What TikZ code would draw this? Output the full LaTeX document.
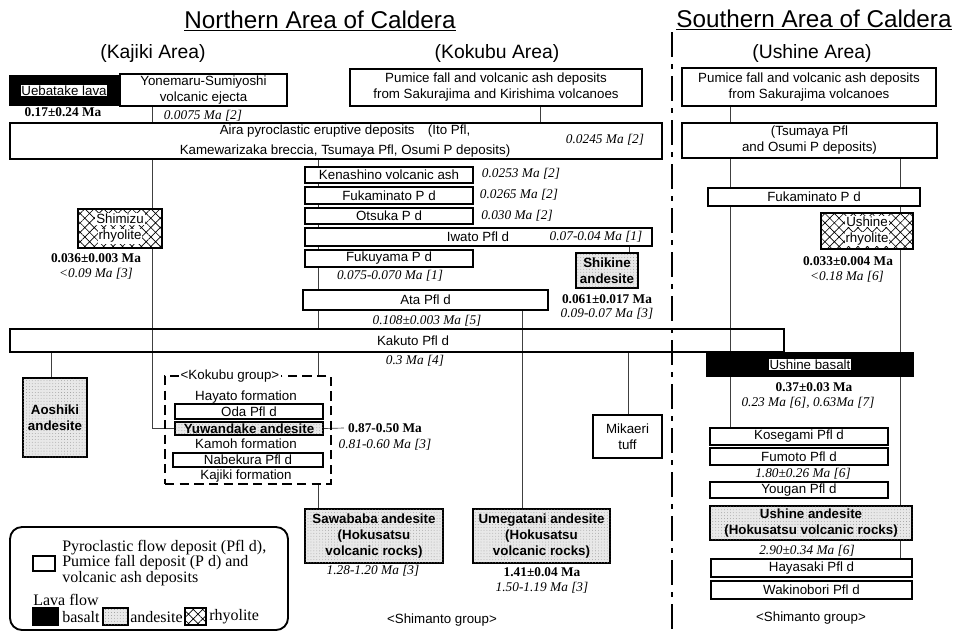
\documentclass[tikz,border=0pt]{standalone}
\usepackage{fontspec}
\setmainfont{Liberation Sans}
\newfontfamily\seriffont{Liberation Serif}
\usetikzlibrary{patterns.meta,backgrounds}
\newcommand{\wb}[1]{{\setlength{\fboxsep}{0.6pt}\colorbox{white}{#1}}}
\begin{document}
\begin{tikzpicture}[x=0.75pt,y=-0.75pt,
  bx/.style n args={4}{at={({(#1+#3)/2},{(#2+#4)/2})},minimum width={(#3-#1)*0.75pt},minimum height={(#4-#2)*0.75pt}},
  box/.style={draw,line width=0.9pt,fill=white,inner sep=0pt,align=center,font=\fontsize{10}{12}\selectfont},
  andes/.style={box,fill=black!9,postaction={pattern={Dots[distance=2.2pt,radius=0.3pt]},pattern color=black!45},font=\bfseries\fontsize{10}{12}\selectfont},
  rhyo/.style={box,postaction={pattern={Hatch[angle=45,distance=5pt,line width=0.5pt]}}},
  basalt/.style={box,fill=black},
  conn/.style={line width=0.5pt,black!75},
  txt/.style={inner sep=0pt,align=center,font=\fontsize{10}{12}\selectfont},
  date/.style={inner sep=0pt,align=center,font=\seriffont\itshape\fontsize{10}{12}\selectfont},
  age/.style={inner sep=0pt,align=center,font=\seriffont\bfseries\fontsize{10}{12}\selectfont},
  ttl/.style={inner sep=0pt,anchor=base,font=\fontsize{18.2}{20}\selectfont},
  subttl/.style={inner sep=0pt,anchor=base,font=\fontsize{14.5}{16}\selectfont},
  legtxt/.style={inner sep=0pt,anchor=west,align=left,font=\seriffont\fontsize{12}{11.7}\selectfont}
]
\path[use as bounding box] (0,0) rectangle (955,633);
\begin{scope}[on background layer]
\fill[white] (0,0) rectangle (955,633);
\end{scope}

% titles
\node[ttl] (tn) at (320,28) {\underline{Northern Area of Caldera}};
\node[ttl] (ts) at (814,27) {\underline{Southern Area of Caldera}};
\node[subttl] (ka) at (153,58) {(Kajiki Area)};
\node[subttl] (kb) at (497,58) {(Kokubu Area)};
\node[subttl] (ua) at (812,58) {(Ushine Area)};

% ---------- northern area ----------
\node[basalt,bx={10}{76}{118}{105}] (ueb) {\wb{Uebatake lava}};
\node[age] (aueb) at (63,112) {0.17±0.24 Ma};
\node[box,bx={120}{74}{287}{106}] (yon) {Yonemaru-Sumiyoshi\\volcanic ejecta};
\node[date] (dyon) at (203,116) {0.0075 Ma [2]};
\node[box,bx={350}{69}{642}{106}] (kpum) {Pumice fall and volcanic ash deposits\\from Sakurajima and Kirishima volcanoes};

\node[box,bx={10}{123}{662}{159}] (aira) {};
\node[txt,font=\fontsize{10}{15}\selectfont] (airatxt) at (345,141) {Aira pyroclastic eruptive deposits\hspace{1em}(Ito Pfl,\\Kamewarizaka breccia, Tsumaya Pfl, Osumi P deposits)};
\node[date] (daira) at (605,140) {0.0245 Ma [2]};

\node[box,bx={305}{167}{473}{183}] (ken) {Kenashino volcanic ash};
\node[date] (dken) at (521,174) {0.0253 Ma [2]};
\node[box,bx={305}{187}{473}{204}] (fuk) {Fukaminato P d};
\node[date] (dfuk) at (519,195) {0.0265 Ma [2]};
\node[box,bx={305}{208}{473}{224}] (ots) {Otsuka P d};
\node[date] (dots) at (517,216) {0.030 Ma [2]};
\node[box,bx={305}{228}{652}{246}] (iwa) {};
\node[txt] (iwatxt) at (478,237) {Iwato Pfl d};
\node[date] (diwa) at (596,237) {0.07-0.04 Ma [1]};
\node[box,bx={305}{250}{473}{267}] (fky) {Fukuyama P d};
\node[date] (dfky) at (390,276) {0.075-0.070 Ma [1]};
\node[box,bx={303}{290}{548}{310}] (ata) {Ata Pfl d};
\node[date] (data) at (427,321) {0.108±0.003 Ma [5]};
\node[andes,bx={576}{253}{638}{288}] (shk) {Shikine\\andesite};
\node[age] (ashk) at (607,299) {0.061±0.017 Ma};
\node[date] (dshk) at (607,314) {0.09-0.07 Ma [3]};

\node[rhyo,bx={78}{209}{162}{248}] (shi) {\wb{Shimizu}\\\wb{rhyolite}};
\node[age] (ashi) at (96,258) {0.036±0.003 Ma};
\node[date] (dshi) at (96,274) {<0.09 Ma [3]};

\node[draw,line width=0.9pt,inner sep=0pt,bx={10}{329}{784}{352}] (kak) {};
\node[txt] (kaktxt) at (413,341) {Kakuto Pfl d};
\node[date] (dkak) at (415,361) {0.3 Ma [4]};

\node[andes,bx={23}{378}{87}{457}] (aos) {Aoshiki\\andesite};
\node[box,bx={593}{415}{662}{458}] (mik) {Mikaeri\\tuff};

% Kokubu group
\node[draw,line width=0.8pt,dash pattern=on 7pt off 4pt,inner sep=0pt,bx={165}{376}{331}{484}] (grp) {};
\node[txt,fill=white,inner sep=1pt] (grplab) at (230,376) {<Kokubu group>};
\node[txt] (hay1) at (246,397) {Hayato formation};
\node[box,bx={175}{404}{323}{419}] (oda) {Oda Pfl d};
\node[andes,bx={175}{422}{323}{435}] (yuw) {Yuwandake andesite};
\node[txt] (kam) at (246,444) {Kamoh formation};
\node[box,bx={173}{453}{323}{467}] (nab) {Nabekura Pfl d};
\node[txt] (kaj) at (246,476) {Kajiki formation};
\node[age] (ayuw) at (385,428) {0.87-0.50 Ma};
\node[date] (dyuw) at (385,445) {0.81-0.60 Ma [3]};

\node[andes,bx={305}{509}{443}{563}] (saw) {Sawababa andesite\\(Hokusatsu\\volcanic rocks)};
\node[date] (dsaw) at (373,571) {1.28-1.20 Ma [3]};
\node[andes,bx={473}{509}{610}{563}] (ume) {Umegatani andesite\\(Hokusatsu\\volcanic rocks)};
\node[age] (aume) at (542,572) {1.41±0.04 Ma};
\node[date] (dume) at (542,588) {1.50-1.19 Ma [3]};
\node[txt] (shim1) at (442,620) {<Shimanto group>};

% ---------- southern area ----------
\node[box,bx={682}{68}{936}{106}] (spum) {Pumice fall and volcanic ash deposits\\from Sakurajima volcanoes};
\node[box,bx={682}{123}{937}{158}] (tsu) {(Tsumaya Pfl\\and Osumi P deposits)};
\node[box,bx={708}{188}{920}{206}] (sfuk) {Fukaminato P d};
\node[rhyo,bx={821}{213}{913}{249}] (urh) {\wb{Ushine}\\\wb{rhyolite}};
\node[age] (aurh) at (848,261) {0.033±0.004 Ma};
\node[date] (durh) at (847,277) {<0.18 Ma [6]};
\node[basalt,bx={707}{353}{913}{376}] (uba) {\wb{Ushine basalt}};
\node[age] (auba) at (814,387) {0.37±0.03 Ma};
\node[date] (duba) at (808,403) {0.23 Ma [6], 0.63Ma [7]};
\node[box,bx={710}{428}{888}{445}] (kos) {Kosegami Pfl d};
\node[box,bx={710}{448}{888}{465}] (fum) {Fumoto Pfl d};
\node[date] (dfum) at (803,474) {1.80±0.26 Ma [6]};
\node[box,bx={710}{482}{888}{498}] (you) {Yougan Pfl d};
\node[andes,bx={710}{506}{912}{540}] (uan) {Ushine andesite\\(Hokusatsu volcanic rocks)};
\node[date] (duan) at (807,551) {2.90±0.34 Ma [6]};
\node[box,bx={711}{559}{912}{577}] (hay) {Hayasaki Pfl d};
\node[box,bx={711}{581}{912}{599}] (wak) {Wakinobori Pfl d};
\node[txt] (shim2) at (811,618) {<Shimanto group>};

% ---------- connectors ----------
\coordinate (cA) at (152,0);
\coordinate (cB) at (318,0);
\coordinate (cC) at (540,0);
\coordinate (cD) at (522,0);
\coordinate (cE) at (629,0);
\coordinate (cF) at (51,0);
\coordinate (cG) at (628,0);
\coordinate (cH) at (730,0);
\coordinate (cI) at (900,0);
\begin{scope}[on background layer]
\draw[conn] (cA |- yon.south) -- (cA |- aira.north);
\draw[conn] (cC |- kpum.south) -- (cC |- aira.north);
\draw[conn] (cA |- aira.south) |- (yuw.west);
\draw[conn] (cB |- aira.south) -- (cB |- kak.north);
\draw[conn] (cB |- kak.south) -- (cB |- grp.north);
\draw[conn] (cB |- grp.south) -- (cB |- saw.north);
\draw[conn] (cE |- iwa.south) -- (cE |- shk.north);
\draw[conn] (cD |- ata.south) -- (cD |- ume.north);
\draw[conn] (cF |- kak.south) -- (cF |- aos.north);
\draw[conn] (cG |- kak.south) -- (cG |- mik.north);
\draw[conn] (yuw.east) -- ([xshift=-3pt]ayuw.west);
\draw[conn] (cH |- spum.south) -- (cH |- tsu.north);
\draw[conn] (cH |- tsu.south) -- (cH |- kos.north);
\draw[conn] (cI |- tsu.south) -- (cI |- hay.north);
\end{scope}

% separator
\draw[line width=2pt,dash pattern=on 19pt off 5pt on 4pt off 5pt] (672,32) -- (672,633);

% ---------- legend ----------
\node[draw,line width=1.4pt,rounded corners=9pt,inner sep=0pt,bx={10}{527}{288}{630}] (leg) {};
\node[box,bx={33}{556}{55}{571}] (sw1) {};
\node[legtxt] (lt1) at (62,563) {Pyroclastic flow deposit (Pfl d),\\Pumice fall deposit (P d) and\\volcanic ash deposits};
\node[legtxt] (lt2) at (33,600) {Lava flow};
\node[basalt,bx={33}{608}{58}{625}] (sw2) {};
\node[legtxt] (lt3) at (62,617) {basalt};
\node[andes,bx={103}{608}{128}{625}] (sw3) {};
\node[legtxt] (lt4) at (130,617) {andesite};
\node[rhyo,bx={185}{608}{206}{625}] (sw4) {};
\node[legtxt] (lt5) at (209,617) {rhyolite};
\end{tikzpicture}
\end{document}
